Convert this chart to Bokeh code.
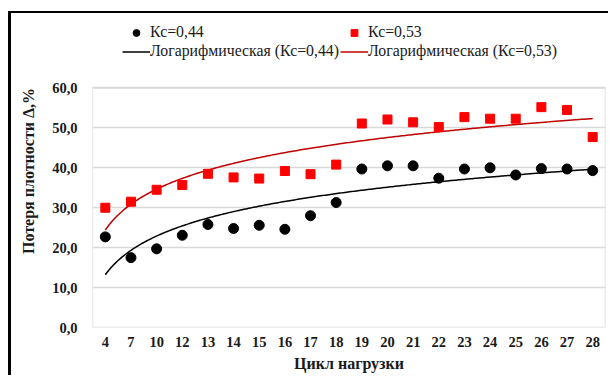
import numpy as np
from bokeh.plotting import figure
from bokeh.models import Range1d, FixedTicker, Legend, LegendItem, ColumnDataSource
from bokeh.embed import file_html
from bokeh.resources import INLINE

categories = ["4", "7", "10", "12", "13", "14", "15", "16", "17", "18",
              "19", "20", "21", "22", "23", "24", "25", "26", "27", "28"]
kc044 = [22.7, 17.5, 19.7, 23.1, 25.8, 24.8, 25.6, 24.6, 28.0, 31.3,
         39.7, 40.5, 40.5, 37.4, 39.7, 40.0, 38.2, 39.8, 39.7, 39.3]
kc053 = [30.0, 31.5, 34.5, 35.7, 38.5, 37.6, 37.3, 39.2, 38.4, 40.8,
         51.1, 52.1, 51.4, 50.2, 52.7, 52.3, 52.3, 55.2, 54.5, 47.7]
y_ticks = [0, 10, 20, 30, 40, 50, 60]
y_tick_labels = ["0,0", "10,0", "20,0", "30,0", "40,0", "50,0", "60,0"]
name044 = "Кс=0,44"
name053 = "Кс=0,53"
trend044 = "Логарифмическая (Кс=0,44)"
trend053 = "Логарифмическая (Кс=0,53)"

FONT = "Liberation Serif"
n = len(categories)
idx = np.arange(1, n + 1)
y_min, y_max = y_ticks[0], y_ticks[-1]

# frame spans the legend area too; the value axis box occupies its lower 238 px
frame_h, box_h = 311, 238
y_top = y_max * frame_h / box_h

p = figure(width=600, height=364, output_backend="svg", toolbar_location=None,
           x_range=Range1d(0.5, n + 0.5), y_range=Range1d(y_min, y_top),
           min_border_left=81, min_border_right=6, min_border_top=1, min_border_bottom=50,
           background_fill_color="white", border_fill_color="white")
p.styles = {"border-left": "3px solid black", "border-top": "2px solid black",
            "margin-top": "11px", "margin-left": "8px"}

p.outline_line_color = None
p.xgrid.grid_line_color = None
p.ygrid.grid_line_color = "#d9d9d9"
p.ygrid.grid_line_width = 1.5

p.xaxis.ticker = FixedTicker(ticks=list(idx))
p.xaxis.major_label_overrides = {int(i): c for i, c in zip(idx, categories)}
p.yaxis.ticker = FixedTicker(ticks=y_ticks)
p.yaxis.major_label_overrides = {t: l for t, l in zip(y_ticks, y_tick_labels)}
for ax in (p.xaxis, p.yaxis):
    ax.axis_line_color = None
    ax.major_tick_line_color = None
    ax.minor_tick_line_color = None
    ax.major_tick_out = 0
    ax.major_tick_in = 0
    ax.minor_tick_out = 0
    ax.major_label_text_font = FONT
    ax.major_label_text_font_style = "bold"
    ax.major_label_text_font_size = "14.5px"
    ax.major_label_text_color = "#1a1a1a"
    ax.axis_label_text_font = FONT
    ax.axis_label_text_font_style = "bold"
    ax.axis_label_text_font_size = "16px"
    ax.axis_label_text_color = "#1a1a1a"
p.xaxis.major_label_standoff = 9
p.yaxis.major_label_standoff = 15
p.xaxis.axis_label = "Цикл нагрузки"
p.yaxis.axis_label = "Потеря плотности Δ,%"
p.xaxis.axis_label_standoff = 5
p.yaxis.axis_label_standoff = 12

# plot-area box (light grey outline around the value area)
p.quad(left=[0.5], right=[n + 0.5], bottom=[y_min], top=[y_max],
       fill_color=None, line_color="#d9d9d9", line_width=1.5)

# logarithmic trend lines (least-squares fit y = a + b ln x)
xs = np.linspace(1, n, 300)
b1, a1 = np.polyfit(np.log(idx), kc044, 1)
b2, a2 = np.polyfit(np.log(idx), kc053, 1)
l1 = p.line(xs, a1 + b1 * np.log(xs), line_color="black", line_width=1.5)
l2 = p.line(xs, a2 + b2 * np.log(xs), line_color="#c00000", line_width=1.5)

src = ColumnDataSource(dict(x=idx, y1=kc044, y2=kc053))
s1 = p.scatter("x", "y1", source=src, marker="circle", size=10, fill_color="black", line_color="black")
s2 = p.scatter("x", "y2", source=src, marker="square", size=9, fill_color="#ff0000", line_color="#ff0000")

legend = Legend(items=[LegendItem(label=name044, renderers=[s1]),
                       LegendItem(label=name053, renderers=[s2]),
                       LegendItem(label=trend044, renderers=[l1]),
                       LegendItem(label=trend053, renderers=[l2])],
                location=(30, frame_h - 44), orientation="horizontal", ncols=2,
                padding=0, margin=0, spacing=1, label_standoff=0,
                glyph_width=28, glyph_height=17, label_height=17,
                label_text_font=FONT, label_text_font_size="15.8px", label_text_color="#1a1a1a",
                border_line_alpha=0, background_fill_alpha=0)
p.add_layout(legend, "center")

open("out.html", "w").write(file_html(p, INLINE))
